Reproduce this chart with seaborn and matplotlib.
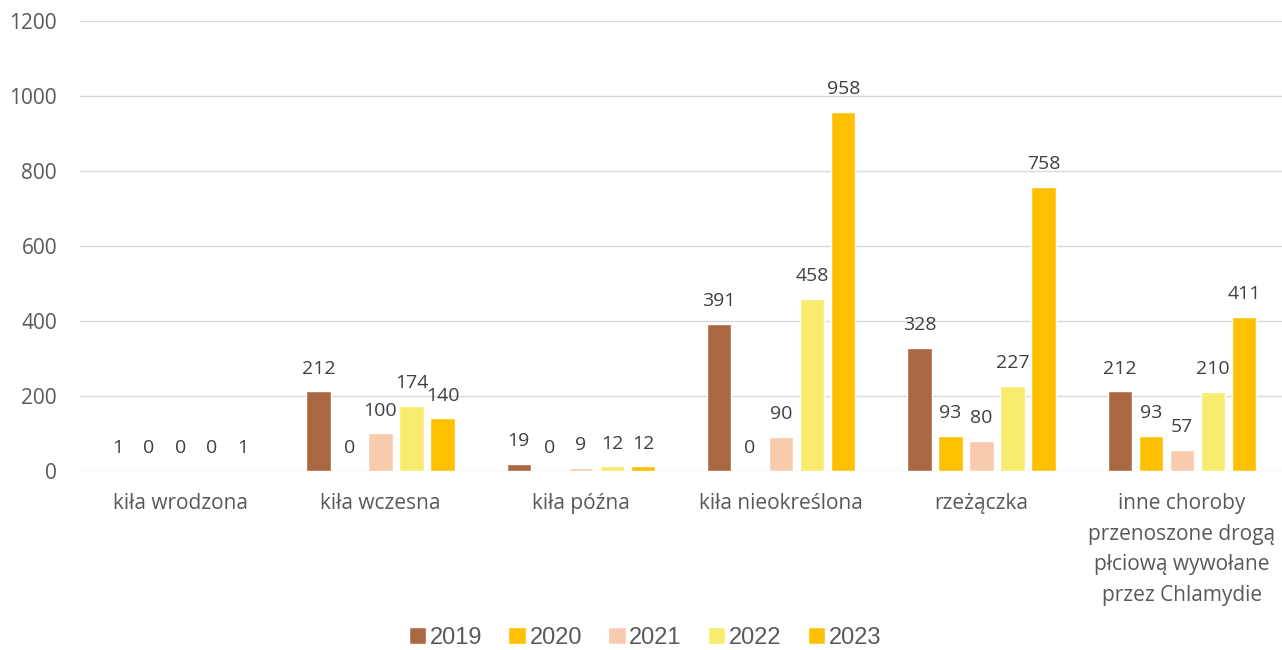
import pandas as pd
import seaborn as sns
import matplotlib.pyplot as plt

# dane
kategorie = ["kiła wrodzona", "kiła wczesna", "kiła późna", "kiła nieokreślona",
             "rzeżączka",
             "inne choroby\nprzenoszone drogą\npłciową wywołane\nprzez Chlamydie"]
lata = ["2019", "2020", "2021", "2022", "2023"]
w2019 = [1, 212, 19, 391, 328, 212]
w2020 = [0, 0, 0, 0, 93, 93]
w2021 = [0, 100, 9, 90, 80, 57]
w2022 = [0, 174, 12, 458, 227, 210]
w2023 = [1, 140, 12, 958, 758, 411]

kolory = ["#AA6842", "#FFC000", "#F8CBAD", "#F8EC6E", "#FFC000"]

df = pd.DataFrame({"kategoria": kategorie * 5,
                   "rok": [r for r in lata for _ in kategorie],
                   "liczba": w2019 + w2020 + w2021 + w2022 + w2023})

sns.set_style("white")
plt.rcParams['font.family'] = ['Open Sans', 'DejaVu Sans']

fig = plt.figure(figsize=(12.82, 6.5), dpi=100)
ax = fig.add_axes([0.0624, 0.2754, 0.9376, 0.6923])

sns.barplot(data=df, x="kategoria", y="liczba", hue="rok", palette=kolory,
            width=0.775, gap=0.22, saturation=1, ax=ax, legend=True)

for c in ax.containers:
    ax.bar_label(c, padding=10, fontsize=14, color="#404040")

ax.set_ylim(0, 1200)
ax.set_yticks(range(0, 1201, 200))
ax.yaxis.grid(True, color="#D9D9D9", linewidth=1)
ax.set_axisbelow(True)
for s in ax.spines.values():
    s.set_visible(False)
ax.tick_params(axis="both", length=0, labelsize=15, labelcolor="#595959")
ax.tick_params(axis="y", pad=16.5)
ax.tick_params(axis="x", pad=16)
for t in ax.get_xticklabels():
    t.set_linespacing(1.6)
    t.set_verticalalignment("top")
ax.set_xlabel("")
ax.set_ylabel("")

ax.legend(loc="center", bbox_to_anchor=(0.47, -0.371), ncol=5, frameon=False,
          prop={"family": "Liberation Sans", "size": 17},
          handlelength=0.75, handleheight=0.75, handletextpad=0.15,
          columnspacing=1.1, labelcolor="#595959")

plt.savefig("out.png", dpi=100)
